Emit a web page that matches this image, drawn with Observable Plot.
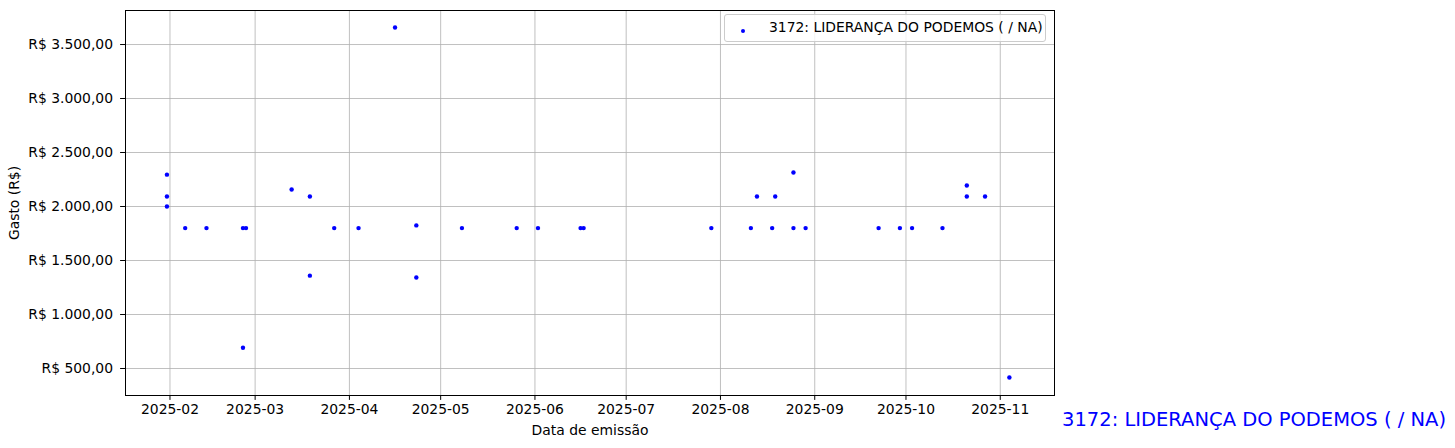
<!DOCTYPE html>
<html>
<head>
<meta charset="utf-8">
<script src="https://cdn.jsdelivr.net/npm/d3@7"></script>
<script src="https://cdn.jsdelivr.net/npm/@observablehq/plot@0.6"></script>
<style>
  html, body { margin: 0; padding: 0; background: #fff; }
  #wrap { position: relative; width: 1455px; height: 448px; font-family: "DejaVu Sans", sans-serif; }
  #legend { position: absolute; left: 724px; top: 14px; width: 322px; height: 28px; border: 1px solid #cccccc; border-radius: 3px; background: rgba(255,255,255,0.8); box-sizing: border-box; font-size: 13.9px; color: #000; }
  #legend .mk { position: absolute; left: 16px; top: 14px; width: 4.4px; height: 4.4px; border-radius: 50%; background: #0000ff; }
  #legend .tx { position: absolute; left: 44px; top: 4px; white-space: nowrap; }
  #title { position: absolute; left: 1062px; top: 408px; font-size: 19.5px; color: #0000ff; white-space: nowrap; }
</style>
</head>
<body>
<div id="wrap"></div>
<script>
const seriesName = "3172: LIDERANÇA DO PODEMOS ( / NA)";
const dates = ["2025-01-31","2025-01-31","2025-01-31","2025-02-06","2025-02-13","2025-02-25","2025-02-26","2025-02-25",
  "2025-03-13","2025-03-19","2025-03-19","2025-03-27","2025-04-04","2025-04-16","2025-04-23","2025-04-23",
  "2025-05-08","2025-05-26","2025-06-02","2025-06-16","2025-06-17","2025-07-29","2025-08-11","2025-08-13",
  "2025-08-18","2025-08-19","2025-08-25","2025-08-25","2025-08-29","2025-09-22","2025-09-29","2025-10-03",
  "2025-10-13","2025-10-21","2025-10-21","2025-10-27","2025-11-04"];
const values = [2295,2093,2000,1800,1800,1800,1800,692,
  2157,2093,1360,1800,1800,3657,1825,1343,
  1800,1800,1800,1800,1800,1800,1800,2093,
  1800,2093,2315,1800,1800,1800,1800,1800,
  1800,2195,2093,2093,417];
const yTicks = [500,1000,1500,2000,2500,3000,3500];
const xTickMonths = ["2025-02-01","2025-03-01","2025-04-01","2025-05-01","2025-06-01","2025-07-01","2025-08-01","2025-09-01","2025-10-01","2025-11-01"];
const xDomain = ["2025-01-17T09:00:00Z","2025-11-18T20:00:00Z"];
const yDomain = [250, 3815];

const data = dates.map((d, i) => ({date: new Date(d + "T00:00:00Z"), value: values[i]}));
const brl = d3.formatLocale({decimal: ",", thousands: ".", grouping: [3], currency: ["R$ ", ""]}).format("$,.2f");
const xTicks = xTickMonths.map(d => new Date(d + "T00:00:00Z"));

const chart = Plot.plot({
  width: 1455,
  height: 448,
  marginLeft: 125,
  marginRight: 401,
  marginTop: 10,
  marginBottom: 53,
  style: {fontFamily: "DejaVu Sans, sans-serif", fontSize: "13.9px", color: "#000", background: "#fff"},
  x: {type: "utc", domain: xDomain.map(d => new Date(d))},
  y: {domain: yDomain},
  marks: [
    Plot.gridX(xTicks, {stroke: "#b0b0b0", strokeOpacity: 1, strokeWidth: 0.8}),
    Plot.gridY(yTicks, {stroke: "#b0b0b0", strokeOpacity: 1, strokeWidth: 0.8}),
    Plot.axisX(xTicks, {tickFormat: d3.utcFormat("%Y-%m"), tickSize: 4.9, tickPadding: 3.5, fontSize: 13.9,
      label: "Data de emissão", labelAnchor: "center", labelArrow: "none", labelOffset: 39}),
    Plot.axisY(yTicks, {tickFormat: brl, tickSize: 4.9, tickPadding: 7.6, fontSize: 13.9,
      label: "Gasto (R$)", labelAnchor: "center", labelArrow: "none", labelOffset: 116}),
    Plot.dot(data, {x: "date", y: "value", r: 2.2, fill: "#0000ff", stroke: "none"}),
    Plot.frame({stroke: "#000", strokeWidth: 1})
  ]
});

const wrap = document.getElementById("wrap");
wrap.appendChild(chart);
const legend = document.createElement("div");
legend.id = "legend";
legend.innerHTML = '<div class="mk"></div><div class="tx"></div>';
legend.querySelector(".tx").textContent = seriesName;
wrap.appendChild(legend);
const title = document.createElement("div");
title.id = "title";
title.textContent = seriesName;
wrap.appendChild(title);
</script>
</body>
</html>
